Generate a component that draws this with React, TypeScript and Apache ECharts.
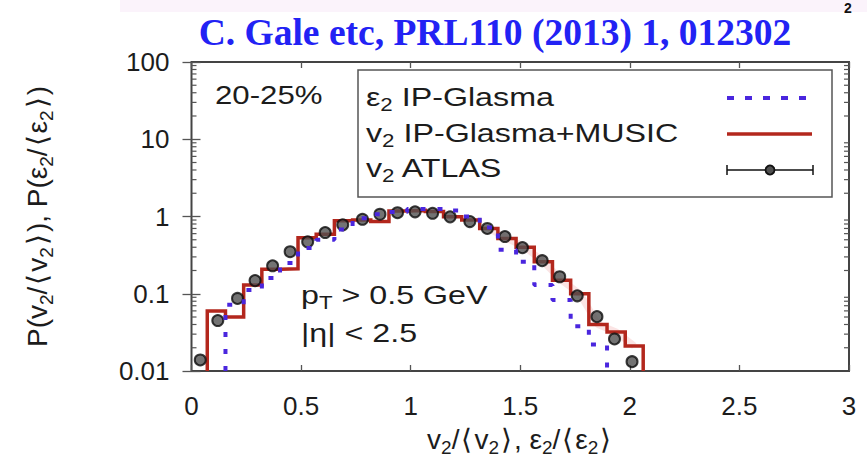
import React, { useEffect, useRef } from "react";
import * as echarts from "echarts";

// ---- data ----
// IP-Glasma+MUSIC v2 histogram (bin edges and contents)
const redEdges = [0.072, 0.155, 0.238, 0.321, 0.404, 0.486, 0.569, 0.652, 0.735, 0.818, 0.901, 0.984, 1.067, 1.15, 1.233, 1.315, 1.398, 1.481, 1.564, 1.647, 1.73, 1.813, 1.896, 1.979, 2.061];
const redValues = [0.06, 0.05, 0.13, 0.207, 0.21, 0.53, 0.59, 0.88, 0.9, 0.86, 1.18, 1.2, 1.16, 0.99, 0.9, 0.7, 0.52, 0.4, 0.26, 0.15, 0.1, 0.04, 0.032, 0.021];
// IP-Glasma eps2 histogram
const blueEdges = [0.155, 0.238, 0.321, 0.404, 0.486, 0.569, 0.652, 0.735, 0.818, 0.901, 0.984, 1.067, 1.15, 1.233, 1.315, 1.398, 1.481, 1.564, 1.647, 1.73, 1.813, 1.896];
const blueValues = [0.072, 0.112, 0.16, 0.25, 0.39, 0.5, 0.68, 0.95, 1.07, 1.14, 1.25, 1.25, 1.2, 1.0, 0.72, 0.37, 0.26, 0.13, 0.083, 0.038, 0.022];
// ATLAS points
const atlasX = [0.04, 0.12, 0.21, 0.29, 0.37, 0.45, 0.53, 0.61, 0.69, 0.78, 0.86, 0.94, 1.02, 1.1, 1.18, 1.27, 1.35, 1.43, 1.51, 1.6, 1.68, 1.76, 1.85, 1.93, 2.01];
const atlasY = [0.0139, 0.045, 0.087, 0.148, 0.23, 0.35, 0.47, 0.62, 0.78, 0.92, 1.07, 1.12, 1.15, 1.1, 0.99, 0.86, 0.7, 0.55, 0.395, 0.268, 0.166, 0.094, 0.0505, 0.026, 0.0132];

const xTickValues = [0, 0.5, 1, 1.5, 2, 2.5, 3];
const xTickLabels = ["0", "0.5", "1", "1.5", "2", "2.5", "3"];
const yTickValues = [0.01, 0.1, 1, 10, 100];
const yTickLabels = ["0.01", "0.1", "1", "10", "100"];
const minorMultipliers = [2, 3, 4, 5, 6, 7, 8, 9];
const minorDecades = [0.01, 0.1, 1, 10];

const FONT = "'Liberation Sans', Arial, Helvetica, sans-serif";
const SERIF = "'Liberation Serif', 'Times New Roman', serif";
const RED = "#b3271d";
const BLUE = "#4a26de";
const TXT = "#1c1c1c";

function stepData(edges: number[], values: number[], floor: number) {
  const pts: number[][] = [[edges[0], floor]];
  for (let i = 0; i < values.length; i++) pts.push([edges[i], values[i]]);
  pts.push([edges[values.length], values[values.length - 1]]);
  pts.push([edges[values.length], floor]);
  return pts;
}

function lookup(vals: number[], labels: string[], v: number) {
  for (let i = 0; i < vals.length; i++) {
    if (Math.abs(vals[i] - v) < 1e-6 * Math.max(1, Math.abs(vals[i]))) return labels[i];
  }
  return "";
}

const nameRich = {
  s: { fontSize: 19, fontFamily: FONT, color: TXT, verticalAlign: "bottom" },
  b: { fontSize: 28, fontFamily: FONT, color: TXT, padding: [0, 2, 0, 2] },
};

function richText(x: number, y: number, text: string, scaleX = 1.24) {
  return {
    type: "text",
    x,
    y,
    scaleX,
    z: 20,
    style: {
      text,
      fontSize: 26,
      fontFamily: FONT,
      fill: TXT,
      lineHeight: 34,
      align: "left",
      verticalAlign: "middle",
      rich: {
        s: { fontSize: 18, fontFamily: FONT, fill: TXT, verticalAlign: "bottom" },
      },
    },
  };
}

export default function App() {
  const ref = useRef<HTMLDivElement>(null);

  useEffect(() => {
    if (!ref.current) return;
    const chart = echarts.init(ref.current, undefined, { renderer: "svg" });

    const minorTicks: number[][] = [];
    minorDecades.forEach((d) => minorMultipliers.forEach((m) => minorTicks.push([0, d * m])));

    const bandData: number[][] = [];
    for (let i = 0; i < redValues.length; i++) {
      const c = (redEdges[i] + redEdges[i + 1]) / 2;
      if (c > 1.3) bandData.push([c, redValues[i]]);
    }

    const tickStyle = { color: "#555", width: 1.3 };

    const option: any = {
      animation: false,
      backgroundColor: "#ffffff",
      grid: {
        left: 191.5,
        right: 18,
        top: 62,
        bottom: 93,
        show: true,
        borderColor: "#444",
        borderWidth: 2,
        backgroundColor: "transparent",
        containLabel: false,
        outerBoundsMode: "none",
      },
      xAxis: [
        {
          type: "value",
          min: 0,
          max: 3,
          interval: 0.5,
          position: "bottom",
          axisLine: { show: false },
          axisTick: { show: true, inside: true, length: 6, lineStyle: tickStyle },
          splitLine: { show: false },
          axisLabel: {
            fontSize: 26,
            fontFamily: FONT,
            color: TXT,
            margin: 22,
            formatter: (v: number) => lookup(xTickValues, xTickLabels, v),
          },
          name: "v{s|2}/{b|⟨}v{s|2}{b|⟩}, ε{s|2}/{b|⟨}ε{s|2}{b|⟩}",
          nameLocation: "middle",
          nameGap: 50,
          nameMoveOverlap: false,
          nameTextStyle: {
            fontSize: 28,
            fontFamily: FONT,
            color: TXT,
            lineHeight: 36,
            rich: nameRich,
          },
        },
        {
          type: "value",
          min: 0,
          max: 3,
          interval: 0.5,
          position: "top",
          axisLine: { show: false },
          axisTick: { show: true, inside: true, length: 6, lineStyle: tickStyle },
          splitLine: { show: false },
          axisLabel: { show: false },
        },
      ],
      yAxis: [
        {
          type: "log",
          logBase: 10,
          min: 0.01,
          max: 100,
          splitNumber: 4,
          position: "left",
          axisLine: { show: false },
          axisTick: { show: true, inside: true, length: 9, lineStyle: tickStyle },
          splitLine: { show: false },
          axisLabel: {
            fontSize: 26,
            fontFamily: FONT,
            color: TXT,
            margin: 22,
            formatter: (v: number) => lookup(yTickValues, yTickLabels, v),
          },
          name: "P(v{s|2}/{b|⟨}v{s|2}{b|⟩}), P(ε{s|2}/{b|⟨}ε{s|2}{b|⟩})",
          nameLocation: "middle",
          nameGap: 136,
          nameMoveOverlap: false,
          nameTextStyle: {
            fontSize: 28,
            fontFamily: FONT,
            color: TXT,
            lineHeight: 36,
            rich: nameRich,
          },
        },
        {
          type: "log",
          logBase: 10,
          min: 0.01,
          max: 100,
          splitNumber: 4,
          position: "right",
          axisLine: { show: false },
          axisTick: { show: true, inside: true, length: 9, lineStyle: tickStyle },
          splitLine: { show: false },
          axisLabel: { show: false },
        },
      ],
      series: [
        {
          type: "custom",
          coordinateSystem: "cartesian2d",
          silent: true,
          clip: false,
          data: minorTicks,
          encode: { x: 0, y: 1 },
          renderItem: (params: any, api: any) => {
            const y = api.coord([0, api.value(1)])[1];
            const cs = params.coordSys;
            const st = { stroke: "#555", lineWidth: 1.2 };
            return {
              type: "group",
              children: [
                { type: "line", shape: { x1: cs.x, y1: y, x2: cs.x + 5, y2: y }, style: st },
                { type: "line", shape: { x1: cs.x + cs.width - 5, y1: y, x2: cs.x + cs.width, y2: y }, style: st },
              ],
            };
          },
          z: 1,
        },
        {
          name: "band",
          type: "line",
          data: bandData,
          symbol: "none",
          silent: true,
          lineStyle: { color: "rgba(235,130,130,0.22)", width: 7 },
          z: 1,
        },
        {
          name: "v2 IP-Glasma+MUSIC",
          type: "line",
          step: "end",
          data: stepData(redEdges, redValues, 0.01),
          symbol: "none",
          lineStyle: { color: RED, width: 3.5, join: "miter" },
          z: 2,
        },
        {
          name: "v2 ATLAS",
          type: "scatter",
          data: atlasX.map((x, i) => [x, atlasY[i]]),
          symbol: "circle",
          symbolSize: 11,
          itemStyle: { color: "#505050", borderColor: "#0d0d0d", borderWidth: 2 },
          z: 3,
        },
        {
          name: "eps2 IP-Glasma",
          type: "line",
          step: "end",
          data: stepData(blueEdges, blueValues, 0.01),
          symbol: "none",
          lineStyle: { color: BLUE, width: 4, type: [5, 12], cap: "butt" },
          z: 4,
        },
      ],
      graphic: [
        { type: "rect", shape: { x: 120, y: 0, width: 747, height: 12 }, style: { fill: "#fbf3fb" }, z: 0 },
        {
          type: "text",
          x: 848,
          y: 1,
          style: { text: "2", fontSize: 14, fontWeight: "bold", fontFamily: FONT, fill: "#111", align: "center", verticalAlign: "top" },
        },
        {
          type: "text",
          x: 495,
          y: 32,
          style: {
            text: "C. Gale etc, PRL110 (2013) 1, 012302",
            fontSize: 37.5,
            fontWeight: "bold",
            fontFamily: SERIF,
            fill: "#2222f4",
            align: "center",
            verticalAlign: "middle",
          },
        },
        {
          type: "rect",
          z: 15,
          shape: { x: 358, y: 70, width: 474, height: 127 },
          style: { fill: "#ffffff", stroke: "#555", lineWidth: 1.5 },
        },
        richText(366, 97, "ε{s|2} IP-Glasma"),
        richText(366, 133, "v{s|2} IP-Glasma+MUSIC"),
        richText(366, 168, "v{s|2} ATLAS"),
        {
          type: "line",
          z: 20,
          shape: { x1: 727, y1: 98, x2: 812, y2: 98 },
          style: { stroke: BLUE, lineWidth: 4, lineDash: [7, 11] },
        },
        {
          type: "line",
          z: 20,
          shape: { x1: 727, y1: 134, x2: 812, y2: 134 },
          style: { stroke: RED, lineWidth: 3.5 },
        },
        { type: "line", z: 20, shape: { x1: 727, y1: 170, x2: 813, y2: 170 }, style: { stroke: "#111", lineWidth: 1.5 } },
        { type: "line", z: 20, shape: { x1: 727, y1: 165, x2: 727, y2: 175 }, style: { stroke: "#111", lineWidth: 1.5 } },
        { type: "line", z: 20, shape: { x1: 813, y1: 165, x2: 813, y2: 175 }, style: { stroke: "#111", lineWidth: 1.5 } },
        { type: "circle", z: 21, shape: { cx: 770, cy: 170, r: 4.5 }, style: { fill: "#505050", stroke: "#111", lineWidth: 1.8 } },
        richText(215, 95, "20-25%", 1.2),
        richText(301, 295, "p{s|T} > 0.5 GeV"),
        richText(301, 333, "|η| < 2.5"),
      ],
    };

    chart.setOption(option);
    return () => chart.dispose();
  }, []);

  return (
    <div
      ref={ref}
      style={{ position: "fixed", left: 0, top: 0, width: 867, height: 464, background: "#fff" }}
    />
  );
}
